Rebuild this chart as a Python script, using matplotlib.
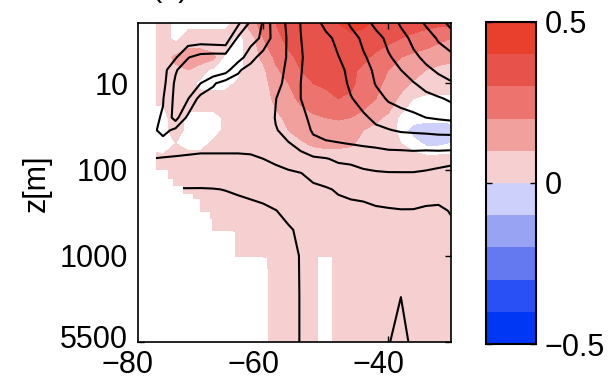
import numpy as np
import matplotlib
matplotlib.use('Agg')
import matplotlib.pyplot as plt
import matplotlib.transforms as mtransforms
from matplotlib.colors import ListedColormap, BoundaryNorm
from matplotlib.cm import ScalarMappable
from matplotlib.ticker import NullLocator

plt.rcParams['font.family'] = ['Liberation Sans', 'DejaVu Sans']

# section grid: latitude (deg) x depth (m)
lat = [-80, -78, -76, -74, -72, -70, -68, -66, -64, -62, -60, -58, -56,
       -54, -52, -50, -48, -46, -44, -42, -40, -38, -36, -34, -32, -30]
depth = [2, 3, 5, 7, 10, 15, 25, 35, 50, 75, 110, 170, 300, 500, 1000, 3000, 5500]

# shaded anomaly
anom = [
    [0.05, 0.05, 0.05, 0.0, 0.0, 0.0, 0.0, 0.0, 0.05, 0.15, 0.25, 0.3, 0.35, 0.35, 0.38, 0.38, 0.4, 0.45, 0.42, 0.38, 0.36, 0.35, 0.35, 0.33, 0.32, 0.32],
    [0.05, 0.05, 0.05, 0.0, 0.05, 0.05, 0.05, 0.05, 0.0, 0.05, 0.2, 0.28, 0.32, 0.34, 0.35, 0.36, 0.36, 0.36, 0.36, 0.34, 0.32, 0.3, 0.27, 0.25, 0.22, 0.2],
    [0.05, 0.05, 0.05, 0.12, 0.15, 0.15, 0.12, 0.0, 0.0, 0.05, 0.12, 0.22, 0.28, 0.32, 0.34, 0.35, 0.35, 0.34, 0.32, 0.28, 0.25, 0.2, 0.17, 0.15, 0.13, 0.12],
    [0.05, 0.05, 0.05, 0.08, 0.1, 0.05, 0.0, 0.0, 0.0, 0.05, 0.08, 0.18, 0.25, 0.3, 0.32, 0.33, 0.34, 0.32, 0.28, 0.24, 0.2, 0.16, 0.13, 0.1, 0.08, 0.07],
    [0.05, 0.05, 0.05, 0.05, 0.05, 0.0, 0.0, 0.0, 0.03, 0.05, 0.07, 0.14, 0.2, 0.26, 0.3, 0.31, 0.32, 0.31, 0.28, 0.22, 0.18, 0.13, 0.09, 0.07, 0.06, 0.06],
    [0.03, 0.03, 0.03, 0.05, 0.05, 0.05, 0.05, 0.05, 0.05, 0.05, 0.06, 0.12, 0.17, 0.22, 0.26, 0.28, 0.3, 0.29, 0.25, 0.2, 0.15, 0.08, 0.02, 0.0, 0.0, 0.0],
    [0.0, 0.0, 0.0, 0.05, 0.0, 0.0, 0.0, 0.03, 0.05, 0.05, 0.05, 0.08, 0.12, 0.15, 0.18, 0.2, 0.21, 0.2, 0.16, 0.12, 0.08, 0.0, 0.0, 0.0, 0.0, 0.0],
    [0.0, 0.0, 0.0, 0.05, 0.0, 0.01, 0.0, 0.03, 0.05, 0.05, 0.05, 0.06, 0.1, 0.12, 0.14, 0.15, 0.15, 0.14, 0.1, 0.07, 0.05, 0.0, -0.04, -0.06, -0.06, -0.05],
    [0.0, 0.0, 0.0, 0.02, 0.0, 0.0, 0.03, 0.05, 0.05, 0.05, 0.05, 0.05, 0.07, 0.09, 0.11, 0.12, 0.12, 0.11, 0.08, 0.06, 0.05, 0.02, 0.0, -0.03, -0.03, -0.02],
    [0.05, 0.05, 0.03, 0.05, 0.05, 0.05, 0.05, 0.05, 0.05, 0.05, 0.05, 0.05, 0.05, 0.05, 0.05, 0.05, 0.05, 0.05, 0.05, 0.05, 0.05, 0.05, 0.04, 0.04, 0.04, 0.04],
    [0.05, 0.05, 0.05, 0.05, 0.05, 0.05, 0.05, 0.05, 0.05, 0.05, 0.05, 0.05, 0.05, 0.05, 0.05, 0.05, 0.05, 0.05, 0.05, 0.05, 0.05, 0.05, 0.05, 0.05, 0.05, 0.05],
    [0.05, 0.05, 0.05, 0.05, 0.05, 0.05, 0.05, 0.05, 0.05, 0.05, 0.05, 0.05, 0.05, 0.05, 0.05, 0.05, 0.05, 0.05, 0.05, 0.05, 0.05, 0.05, 0.05, 0.05, 0.05, 0.05],
    [0.05, 0.05, 0.05, 0.05, 0.05, 0.05, 0.05, 0.05, 0.05, 0.05, 0.05, 0.05, 0.05, 0.05, 0.05, 0.05, 0.05, 0.05, 0.05, 0.05, 0.05, 0.05, 0.05, 0.05, 0.05, 0.05],
    [0.05, 0.05, 0.05, 0.05, 0.05, 0.05, 0.05, 0.05, 0.05, 0.05, 0.05, 0.05, 0.05, 0.05, 0.05, 0.05, 0.05, 0.05, 0.05, 0.05, 0.05, 0.05, 0.05, 0.05, 0.05, 0.05],
    [0.05, 0.05, 0.05, 0.05, 0.05, 0.05, 0.05, 0.05, 0.05, 0.05, 0.05, 0.05, 0.05, 0.05, 0.05, 0.05, 0.05, 0.05, 0.05, 0.05, 0.05, 0.05, 0.05, 0.05, 0.05, 0.05],
    [0.05, 0.05, 0.05, 0.05, 0.05, 0.05, 0.05, 0.05, 0.05, 0.05, 0.05, 0.05, 0.05, 0.05, 0.05, 0.05, 0.05, 0.05, 0.05, 0.05, 0.05, 0.05, 0.05, 0.05, 0.05, 0.05],
    [0.05, 0.05, 0.05, 0.05, 0.05, 0.05, 0.05, 0.05, 0.05, 0.05, 0.05, 0.05, 0.05, 0.05, 0.05, 0.05, 0.05, 0.05, 0.05, 0.05, 0.05, 0.05, 0.05, 0.05, 0.05, 0.05],
]

# contoured background field (black lines)
dens = [
    [10.5, 10.5, 10.5, 10.5, 10.5, 10.45, 10.4, 10.35, 10.2, 8.8, 9.02, 10.77, 9.76, 8.97, 8.3, 7.8, 7.4, 6.9, 6.3, 5.8, 5.4, 4.9, 4.4, 3.9, 3.3, 2.8],
    [10.5, 10.5, 10.5, 10.5, 10.5, 10.5, 10.6, 10.67, 8.8, 8.7, 9.15, 10.6, 9.9, 9.02, 8.5, 8.2, 7.8, 7.3, 6.85, 6.3, 5.8, 5.3, 4.8, 4.4, 3.9, 3.4],
    [10.5, 10.5, 10.5, 10.1, 9.05, 8.6, 8.5, 8.5, 8.6, 9.5, 10.6, 10.5, 9.9, 9.05, 8.75, 8.5, 8.03, 7.6, 7.1, 6.7, 6.1, 5.7, 5.2, 4.8, 4.5, 4.3],
    [10.4, 10.4, 10.4, 9.1, 8.4, 8.3, 8.3, 8.6, 9.8, 10.6, 10.6, 10.4, 9.8, 9.02, 8.8, 8.55, 8.2, 7.8, 7.4, 6.8, 6.4, 6.0, 5.6, 5.2, 4.85, 4.6],
    [10.3, 10.3, 10.3, 8.8, 8.5, 9.0, 9.85, 10.5, 10.6, 10.6, 10.6, 10.3, 9.7, 9.0, 8.8, 8.6, 8.35, 7.85, 7.5, 6.95, 6.6, 6.3, 6.05, 5.7, 5.4, 5.1],
    [10.05, 10.05, 10.05, 8.7, 8.95, 10.4, 10.6, 10.6, 10.6, 10.6, 10.6, 10.02, 9.6, 9.0, 8.85, 8.7, 8.4, 8.05, 7.7, 7.3, 6.9, 6.7, 6.5, 6.3, 6.1, 5.85],
    [10.3, 10.3, 9.9, 8.6, 10.3, 10.5, 10.6, 10.6, 10.6, 10.6, 10.6, 9.95, 9.6, 9.1, 8.9, 8.75, 8.6, 8.4, 8.15, 7.8, 7.6, 7.4, 7.25, 7.0, 6.9, 6.8],
    [10.4, 10.4, 9.6, 10.3, 10.5, 10.6, 10.6, 10.6, 10.6, 10.6, 10.6, 10.05, 9.75, 9.4, 8.9, 8.75, 8.6, 8.5, 8.35, 8.2, 8.05, 7.9, 7.85, 7.8, 7.75, 7.75],
    [10.6, 10.6, 10.6, 10.6, 10.65, 10.7, 10.7, 10.7, 10.7, 10.7, 10.6, 10.4, 10.05, 9.8, 9.25, 9.1, 9.05, 8.97, 8.9, 8.85, 8.75, 8.75, 8.7, 8.7, 8.6, 8.55],
    [11.0, 11.0, 11.05, 11.1, 11.15, 11.2, 11.2, 11.2, 11.2, 11.15, 11.0, 10.85, 10.6, 10.25, 10.15, 10.05, 9.85, 9.8, 9.6, 9.5, 9.45, 9.4, 9.4, 9.45, 9.55, 9.7],
    [11.3, 11.3, 11.3, 11.5, 11.5, 11.55, 11.55, 11.55, 11.55, 11.45, 11.3, 11.25, 11.15, 11.02, 10.7, 10.55, 10.45, 10.35, 10.2, 10.1, 10.05, 10.05, 10.05, 10.15, 10.3, 10.4],
    [11.6, 11.6, 11.6, 12.05, 12.05, 12.05, 12.03, 11.98, 11.9, 11.8, 11.7, 11.6, 11.45, 11.35, 11.25, 11.1, 10.9, 10.8, 10.75, 10.6, 10.5, 10.45, 10.5, 10.6, 10.7, 10.75],
    [12.3, 12.3, 12.3, 12.4, 12.4, 12.4, 12.4, 12.4, 12.35, 12.3, 12.2, 12.02, 11.8, 11.7, 11.6, 11.5, 11.4, 11.3, 11.25, 11.15, 11.1, 11.05, 11.05, 11.15, 11.15, 10.95],
    [12.5, 12.5, 12.5, 12.5, 12.5, 12.5, 12.5, 12.5, 12.5, 12.5, 12.4, 12.3, 12.1, 11.85, 11.75, 11.65, 11.6, 11.55, 11.5, 11.45, 11.4, 11.35, 11.35, 11.4, 11.4, 11.2],
    [12.5, 12.5, 12.5, 12.5, 12.5, 12.5, 12.5, 12.5, 12.5, 12.5, 12.5, 12.4, 12.3, 11.95, 11.8, 11.7, 11.65, 11.6, 11.55, 11.55, 11.55, 11.5, 11.5, 11.5, 11.5, 11.4],
    [12.5, 12.5, 12.5, 12.5, 12.5, 12.5, 12.5, 12.5, 12.5, 12.5, 12.5, 12.4, 12.4, 11.95, 11.8, 11.7, 11.65, 11.6, 11.6, 11.6, 11.75, 11.98, 11.7, 11.6, 11.55, 11.5],
    [12.5, 12.5, 12.5, 12.5, 12.5, 12.5, 12.5, 12.5, 12.5, 12.5, 12.5, 12.4, 12.4, 11.95, 11.8, 11.7, 11.65, 11.6, 11.6, 11.7, 11.95, 12.3, 11.8, 11.7, 11.6, 11.6],
]
line_levels = [3, 4, 5, 6, 7, 8, 9, 10, 11, 12]

# sea floor (white below), steps start at each latitude
shelf_lat = [-80, -77.2, -75.2, -74.4, -72.8, -71.2, -70.1, -68.5, -68.2, -64.8,
             -64.5, -60.0, -59.4, -59.2, -51.2, -49.0, -30]
shelf_depth = [1, 100, 130, 157, 190, 220, 310, 375, 520, 530,
               1050, 1100, 1700, 9000, 1050, 9000, 9000]

cb_levels = [-0.5, -0.4, -0.3, -0.2, -0.1, 0, 0.1, 0.2, 0.3, 0.4, 0.5]
cb_colors = ['#0037F5', '#2850F5', '#6478F0', '#99A3F3', '#CCD0FA',
             '#F6D0D0', '#F1A09E', '#EC736E', '#E7524A', '#E8402C']
fill_levels = [-0.5, -0.4, -0.3, -0.2, -0.1, -0.02, 0.02, 0.1, 0.2, 0.3, 0.4, 0.5]
fill_colors = cb_colors[:5] + ['white'] + cb_colors[5:]


def fwd(z):
    z = np.asarray(z, dtype=float)
    zl = np.log10(np.clip(z, 1e-3, None))
    return np.where(z <= 1000, zl, 3 + (z - 1000) / 4500)


def inv(y):
    y = np.asarray(y, dtype=float)
    return np.where(y <= 3, 10 ** np.minimum(y, 3), 1000 + (y - 3) * 4500)


fig = plt.figure(figsize=(6.1, 3.78), dpi=100)
ax = fig.add_axes([0.2262, 0.0952, 0.5131, 0.8439])
cax = fig.add_axes([0.7967, 0.0899, 0.082, 0.852])

X, Z = np.meshgrid(lat, depth)
ax.set_yscale('function', functions=(fwd, inv))
ax.contourf(X, Z, np.array(anom), levels=fill_levels, colors=fill_colors)
ax.contour(X, Z, np.array(dens), levels=line_levels, colors='k', linewidths=1.5)
ax.fill_between(shelf_lat, shelf_depth, 9000, step='post', color='white',
                lw=0, zorder=2.2)

ax.set_xlim(-80, -30)
ax.set_ylim(5500, 2)
ax.set_yticks([10, 100, 1000, 5500])
ax.set_yticklabels(['10', '100', '1000', '5500'])
ax.yaxis.set_minor_locator(NullLocator())
ax.set_xticks([-80, -60, -40])
ax.set_xticklabels(['\u221280', '\u221260', '\u221240'])
ax.tick_params(direction='in', length=4, width=1, top=True, right=True,
               labelsize=22)
ax.tick_params(axis='y', pad=7)
ax.tick_params(axis='x', pad=5.5)
shift = mtransforms.ScaledTranslation(-0.1, 0, fig.dpi_scale_trans)
for lab in ax.get_xticklabels():
    lab.set_transform(lab.get_transform() + shift)
# last depth label sits a little higher, as in the original
up = mtransforms.ScaledTranslation(0, 0.06, fig.dpi_scale_trans)
ylabs = ax.get_yticklabels()
ylabs[-1].set_transform(ylabs[-1].get_transform() + up)
for sp in ax.spines.values():
    sp.set_linewidth(1.2)

fig.text(37 / 610, 1 - 183 / 378, 'z[m]', rotation=90, ha='center',
         va='center', fontsize=22)
fig.text(170 / 610, 1.0098, '(a)', ha='center', va='baseline', fontsize=22)

sm = ScalarMappable(norm=BoundaryNorm(cb_levels, 10), cmap=ListedColormap(cb_colors))
cb = fig.colorbar(sm, cax=cax, ticks=[-0.5, 0, 0.5])
cb.minorticks_off()
cb.ax.set_yticklabels(['\u22120.5', '0', '0.5'])
cb.ax.tick_params(direction='in', left=True, right=True, length=4, width=1,
                  labelsize=22, pad=6)
cb.outline.set_linewidth(1.5)

plt.savefig('out.png', dpi=100)
